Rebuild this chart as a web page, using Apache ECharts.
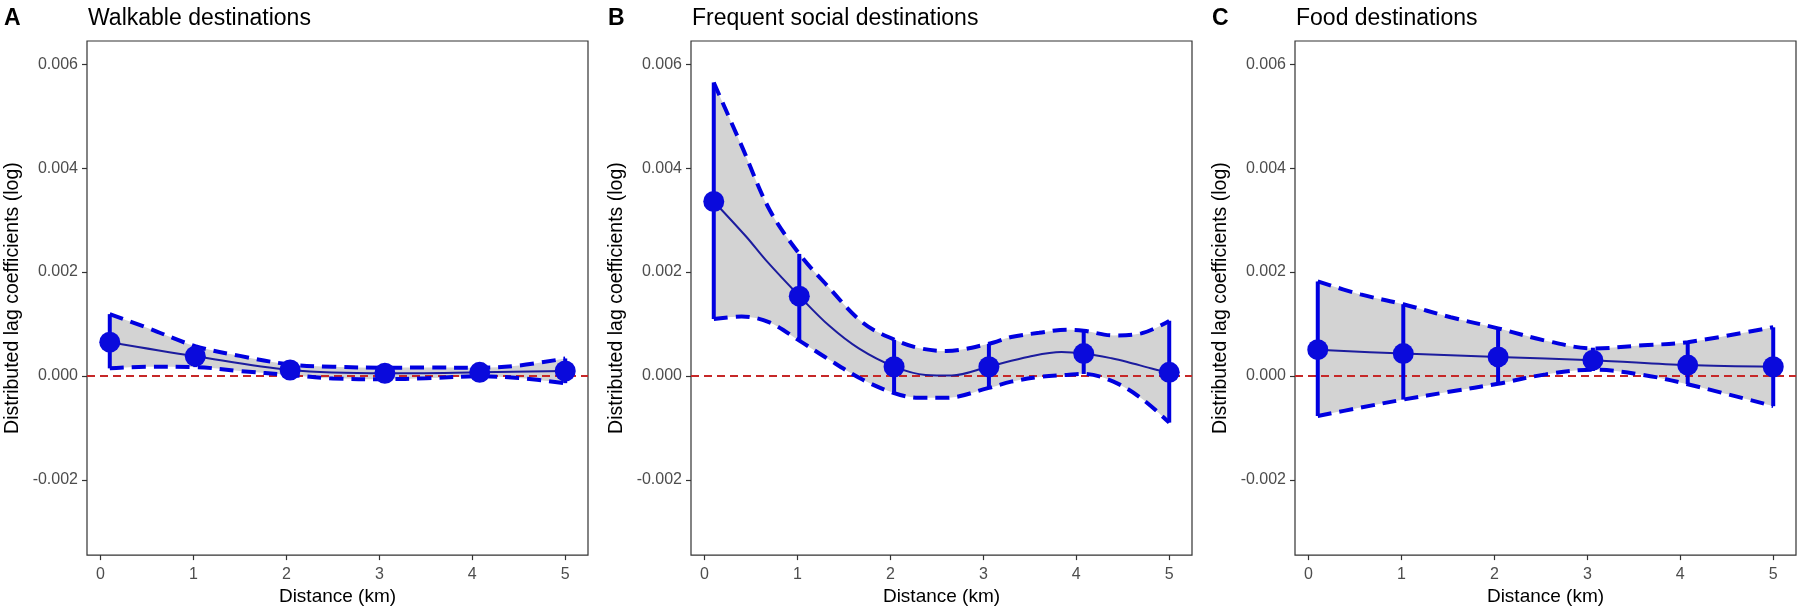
<!DOCTYPE html>
<html><head><meta charset="utf-8">
<script src="https://cdn.jsdelivr.net/npm/echarts@6/dist/echarts.min.js"></script>
<style>html,body{margin:0;padding:0;background:#fff}#c{width:1800px;height:611px}</style>
</head><body><div id="c"></div>
<script>
// ---------- data ----------
const panelLetters = ['A', 'B', 'C'];
const panelTitles = ['Walkable destinations', 'Frequent social destinations', 'Food destinations'];
const xTickValues = [0, 1, 2, 3, 4, 5];
const yTickValues = [-0.002, 0, 0.002, 0.004, 0.006];
const xAxisTitle = 'Distance (km)';
const yAxisTitle = 'Distributed lag coefficients (log)';

// point positions (km)
const xPts = [0.1, 1.02, 2.04, 3.06, 4.08, 5.0];

// Panel A: Walkable destinations
const estA = [0.00065, 0.00038, 0.000114, 0.000051, 0.00007, 0.000095];
const loA  = [0.000146, 0.00017, 0.000019, -0.000063, -0.000006, -0.000139];
const hiA  = [0.00119, 0.000575, 0.000221, 0.000158, 0.000158, 0.000336];
const bandXA   = [0.1, 0.5, 1.02, 1.5, 2.04, 2.5, 3.06, 3.5, 4.08, 4.5, 5.0];
const bandUpA  = [0.00119, 0.00093, 0.000575, 0.000386, 0.000221, 0.000177, 0.000158, 0.000162, 0.000158, 0.0002, 0.000336];
const bandLoA  = [0.000146, 0.000177, 0.00017, 0.000095, 0.000019, -0.00005, -0.000063, -0.000044, -0.000006, -0.00004, -0.000139];
const curveXA  = [0.1, 1.02, 2.04, 3.06, 4.08, 5.0];
const curveA   = [0.00065, 0.00038, 0.000114, 0.000051, 0.00007, 0.000095];

// Panel B: Frequent social destinations
const estB = [0.00336, 0.001537, 0.000177, 0.000177, 0.00043, 0.00007];
const loB  = [0.001095, 0.000683, -0.000329, -0.000234, 0.000038, -0.000898];
const hiB  = [0.00565, 0.00235, 0.000696, 0.00062, 0.00087, 0.001063];
const bandXB  = [0.1, 0.4, 0.7, 1.02, 1.3, 1.7, 2.04, 2.3, 2.6, 3.06, 3.3, 3.6, 3.9, 4.08, 4.4, 4.7, 5.0];
const bandUpB = [0.00565, 0.00443, 0.0032, 0.00235, 0.00178, 0.00103, 0.0007, 0.00054, 0.00048, 0.00062, 0.00075, 0.00083, 0.00089, 0.00087, 0.00078, 0.00082, 0.00106];
const bandLoB = [0.001095, 0.001145, 0.00103, 0.00068, 0.00036, -0.00007, -0.00033, -0.00042, -0.00042, -0.00023, -0.00011, -0.00002, 0.00002, 0.00004, -0.00011, -0.00043, -0.0009];
const curveXB = [0.1, 0.45, 0.66, 1.02, 1.34, 1.66, 2.04, 2.38, 2.66, 3.06, 3.49, 3.84, 4.08, 4.38, 4.55, 4.84, 5.0];
const curveB  = [0.00336, 0.00268, 0.00223, 0.00154, 0.00097, 0.00053, 0.00018, 0.00002, 0.00001, 0.00018, 0.00037, 0.00046, 0.00043, 0.00034, 0.00027, 0.00013, 0.00007];

// Panel C: Food destinations
const estC = [0.000506, 0.00043, 0.000367, 0.000304, 0.000209, 0.000177];
const loC  = [-0.000772, -0.000455, -0.000152, 0.000095, -0.000158, -0.000582];
const hiC  = [0.00182, 0.00138, 0.000917, 0.000544, 0.000651, 0.000936];
const bandXC  = [0.1, 0.56, 1.02, 1.53, 2.04, 2.55, 3.06, 3.6, 4.08, 5.0];
const bandUpC = [0.00182, 0.00157, 0.00138, 0.00113, 0.000917, 0.00068, 0.00053, 0.00059, 0.00065, 0.00094];
const bandLoC = [-0.00077, -0.00061, -0.000455, -0.0003, -0.00015, 0.00003, 0.00012, 0.00002, -0.00016, -0.00058];
const curveXC = [0.1, 1.02, 2.04, 3.06, 4.08, 5.0];
const curveC  = [0.000506, 0.00043, 0.000367, 0.000304, 0.000209, 0.000177];

// ---------- chart ----------
const panels = [
  {est: estA, lo: loA, hi: hiA, bx: bandXA, bu: bandUpA, bl: bandLoA, cx: curveXA, cv: curveA},
  {est: estB, lo: loB, hi: hiB, bx: bandXB, bu: bandUpB, bl: bandLoB, cx: curveXB, cv: curveB},
  {est: estC, lo: loC, hi: hiC, bx: bandXC, bu: bandUpC, bl: bandLoC, cx: curveXC, cv: curveC}
];
const FONT = "'Liberation Sans', Arial, sans-serif";
const gridLefts = [87, 691, 1295];
const zip = (xs, ys) => xs.map((x, i) => [x, ys[i]]);
const BLUE = '#0000E0';
const SMOOTH = 0.35;

// same bezier construction as ECharts' smoothed line, so the ribbon fill matches the dashed edges
function bezierSegs(points, smooth) {
  const segs = [];
  const n = points.length;
  let prevX = points[0][0], prevY = points[0][1];
  let cpx0 = prevX, cpy0 = prevY, cpx1, cpy1;
  for (let idx = 1; idx < n; idx++) {
    const x = points[idx][0], y = points[idx][1];
    const ddx = x - prevX, ddy = y - prevY;
    if (ddx * ddx + ddy * ddy < 0.5) continue;
    let nextCpx0, nextCpy0;
    if (idx + 1 >= n) { cpx1 = x; cpy1 = y; }
    else {
      const nextX = points[idx + 1][0], nextY = points[idx + 1][1];
      let vx = nextX - prevX, vy = nextY - prevY;
      const dx0 = x - prevX, dx1 = nextX - x, dy0 = y - prevY, dy1 = nextY - y;
      const lenPrev = Math.sqrt(dx0 * dx0 + dy0 * dy0);
      const lenNext = Math.sqrt(dx1 * dx1 + dy1 * dy1);
      const ratio = lenNext / (lenNext + lenPrev);
      nextCpx0 = x + vx * smooth * ratio; nextCpy0 = y + vy * smooth * ratio;
      nextCpx0 = Math.min(nextCpx0, Math.max(nextX, x)); nextCpy0 = Math.min(nextCpy0, Math.max(nextY, y));
      nextCpx0 = Math.max(nextCpx0, Math.min(nextX, x)); nextCpy0 = Math.max(nextCpy0, Math.min(nextY, y));
      vx = nextCpx0 - x; vy = nextCpy0 - y;
      cpx1 = x - vx * lenPrev / lenNext; cpy1 = y - vy * lenPrev / lenNext;
      cpx1 = Math.min(cpx1, Math.max(prevX, x)); cpy1 = Math.min(cpy1, Math.max(prevY, y));
      cpx1 = Math.max(cpx1, Math.min(prevX, x)); cpy1 = Math.max(cpy1, Math.min(prevY, y));
      vx = x - cpx1; vy = y - cpy1;
      nextCpx0 = x + vx * lenNext / lenPrev; nextCpy0 = y + vy * lenNext / lenPrev;
    }
    segs.push([[prevX, prevY], [cpx0, cpy0], [cpx1, cpy1], [x, y]]);
    cpx0 = nextCpx0; cpy0 = nextCpy0;
    prevX = x; prevY = y;
  }
  return segs;
}
const f = v => v.toFixed(2);
function bandPath(up, lo) {
  const su = bezierSegs(up, SMOOTH), sl = bezierSegs(lo, SMOOTH);
  let d = 'M' + f(up[0][0]) + ' ' + f(up[0][1]);
  su.forEach(s => { d += 'C' + f(s[1][0]) + ' ' + f(s[1][1]) + ' ' + f(s[2][0]) + ' ' + f(s[2][1]) + ' ' + f(s[3][0]) + ' ' + f(s[3][1]); });
  const last = lo[lo.length - 1];
  d += 'L' + f(last[0]) + ' ' + f(last[1]);
  for (let k = sl.length - 1; k >= 0; k--) {
    const s = sl[k];
    d += 'C' + f(s[2][0]) + ' ' + f(s[2][1]) + ' ' + f(s[1][0]) + ' ' + f(s[1][1]) + ' ' + f(s[0][0]) + ' ' + f(s[0][1]);
  }
  return d + 'Z';
}

const grids = [], xAxes = [], yAxes = [], series = [], titles = [];
panels.forEach((p, i) => {
  grids.push({left: gridLefts[i], top: 41, width: 501, height: 521, show: true,
    borderColor: '#333333', borderWidth: 1.2, backgroundColor: 'transparent', containLabel: false});
  xAxes.push({type: 'value', gridIndex: i, min: -0.145, max: 5.245,
    name: xAxisTitle, nameLocation: 'middle', nameGap: 31,
    nameTextStyle: {fontFamily: FONT, fontSize: 19, color: '#000'},
    axisLine: {show: false, onZero: false}, splitLine: {show: false},
    axisTick: {show: true, length: 5, customValues: xTickValues, lineStyle: {color: '#333333', width: 1.2}},
    axisLabel: {customValues: xTickValues, margin: 11, fontFamily: FONT, fontSize: 16, color: '#4D4D4D',
      formatter: v => String(v)}});
  yAxes.push({type: 'value', gridIndex: i, min: -0.00345, max: 0.00645,
    name: yAxisTitle, nameLocation: 'middle', nameGap: 64, nameRotate: 90,
    nameTextStyle: {fontFamily: FONT, fontSize: 19.5, color: '#000'},
    axisLine: {show: false, onZero: false}, splitLine: {show: false},
    axisTick: {show: true, length: 5, customValues: yTickValues, lineStyle: {color: '#333333', width: 1.2}},
    axisLabel: {customValues: yTickValues, margin: 9, fontFamily: FONT, fontSize: 16, color: '#4D4D4D',
      formatter: v => v.toFixed(3)}});
  titles.push({text: panelLetters[i], left: gridLefts[i] - 83, top: 7, padding: 0,
    textStyle: {fontFamily: FONT, fontSize: 23, fontWeight: 'bold', color: '#000'}});
  titles.push({text: panelTitles[i], left: gridLefts[i] + 1, top: 7, padding: 0,
    textStyle: {fontFamily: FONT, fontSize: 23, fontWeight: 'normal', color: '#000'}});

  const ax = {xAxisIndex: i, yAxisIndex: i};
  // ribbon fill between the upper and lower edges
  series.push(Object.assign({type: 'custom', name: 'band' + i, silent: true, z: 1,
    data: p.bx.map((x, j) => [x, p.bu[j], p.bl[j]]),
    encode: {x: 0, y: [1, 2]},
    renderItem: (params, api) => {
      if (params.dataIndex !== 0) return null;
      const up = p.bx.map((x, j) => api.coord([x, p.bu[j]]));
      const lo = p.bx.map((x, j) => api.coord([x, p.bl[j]]));
      return {type: 'path', shape: {pathData: bandPath(up, lo)},
        style: {fill: '#D3D3D3', stroke: null}};
    },
    markLine: {silent: true, symbol: 'none', z: 3, label: {show: false},
      lineStyle: {color: '#C62828', type: [8, 5], width: 2},
      data: [{yAxis: 0}]}}, ax));
  // dashed ribbon edges
  [p.bu, p.bl].forEach((vals, k) => {
    series.push(Object.assign({type: 'line', name: (k ? 'lower' : 'upper') + i, data: zip(p.bx, vals),
      smooth: SMOOTH, symbol: 'none', silent: true, z: 4,
      lineStyle: {color: BLUE, width: 4, type: [14, 8], cap: 'butt'}}, ax));
  });
  // fitted curve
  series.push(Object.assign({type: 'line', name: 'curve' + i, data: zip(p.cx, p.cv), smooth: SMOOTH,
    symbol: 'none', silent: true, z: 5, lineStyle: {color: '#1C1C9E', width: 2}}, ax));
  // error bars
  series.push(Object.assign({type: 'custom', name: 'err' + i, silent: true, z: 6,
    data: p.lo.map((lo, j) => [xPts[j], lo, p.hi[j]]),
    encode: {x: 0, y: [1, 2]},
    renderItem: (params, api) => {
      const a = api.coord([api.value(0), api.value(1)]);
      const b = api.coord([api.value(0), api.value(2)]);
      return {type: 'line', shape: {x1: a[0], y1: a[1], x2: b[0], y2: b[1]},
        style: {stroke: BLUE, lineWidth: 4, lineCap: 'butt'}};
    }}, ax));
  // points
  series.push(Object.assign({type: 'scatter', name: 'pts' + i, data: zip(xPts, p.est), symbol: 'circle',
    symbolSize: 21, silent: true, z: 7, itemStyle: {color: '#0A0ADC', opacity: 1}}, ax));
});

const chart = echarts.init(document.getElementById('c'), null, {renderer: 'canvas'});
chart.setOption({
  backgroundColor: '#FFFFFF',
  animation: false,
  title: titles,
  grid: grids,
  xAxis: xAxes,
  yAxis: yAxes,
  series: series
});
</script>
</body></html>
